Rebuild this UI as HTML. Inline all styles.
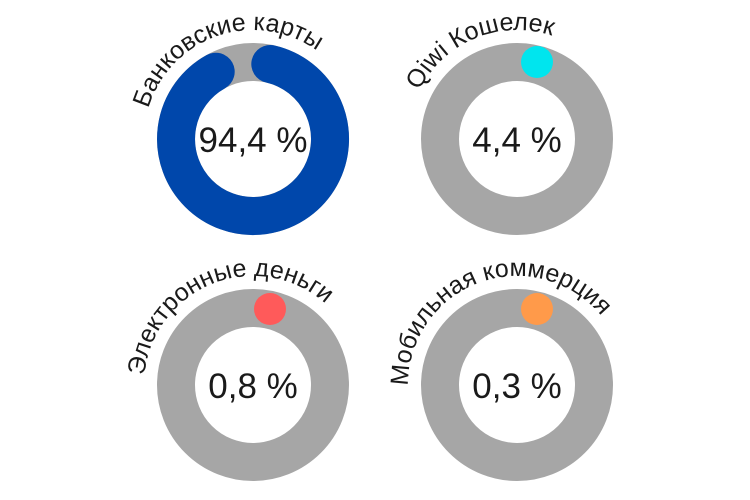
<!DOCTYPE html>
<html><head><meta charset="utf-8"><style>
html,body{margin:0;padding:0;background:#fff;}
svg{display:block}
text{font-family:"Liberation Sans","DejaVu Sans",sans-serif;fill:#1a1a1a;}
</style></head><body>
<svg width="750" height="500" viewBox="0 0 750 500">
<defs>
<path id="p1" d="M144,139 A109,109 0 0 1 362,139"/>
<path id="p2" d="M408,139 A109,109 0 0 1 626,139"/>
<path id="p3" d="M144,385 A109,109 0 0 1 362,385"/>
<path id="p4" d="M408,385 A109,109 0 0 1 626,385"/>
</defs>
<g fill="none" stroke="#a6a6a6" stroke-width="38">
<circle cx="253" cy="139" r="77"/>
<circle cx="517" cy="139" r="77"/>
<circle cx="253" cy="385" r="77"/>
<circle cx="517" cy="385" r="77"/>
</g>
<path d="M270.3,64 A77,77 0 1 1 215.7,71.7" fill="none" stroke="#0047ab" stroke-width="38" stroke-linecap="round"/>
<circle cx="537" cy="62" r="16" fill="#00e5ee"/>
<circle cx="270" cy="309" r="16" fill="#ff5a5a"/>
<circle cx="537" cy="309" r="16" fill="#ff9a4a"/>
<g font-size="35" text-anchor="middle">
<text x="253" y="152">94,4 %</text>
<text x="517" y="152">4,4 %</text>
<text x="253" y="398">0,8 %</text>
<text x="517" y="398">0,3 %</text>
</g>
<g font-size="25" text-anchor="middle">
<text><textPath href="#p1" startOffset="39.5%">Банковские карты</textPath></text>
<text><textPath href="#p2" startOffset="37.5%">Qiwi Кошелек</textPath></text>
<text><textPath href="#p3" startOffset="38%">Электронные деньги</textPath></text>
<text><textPath href="#p4" startOffset="39%">Мобильная коммерция</textPath></text>
</g>
</svg>
</body></html>
